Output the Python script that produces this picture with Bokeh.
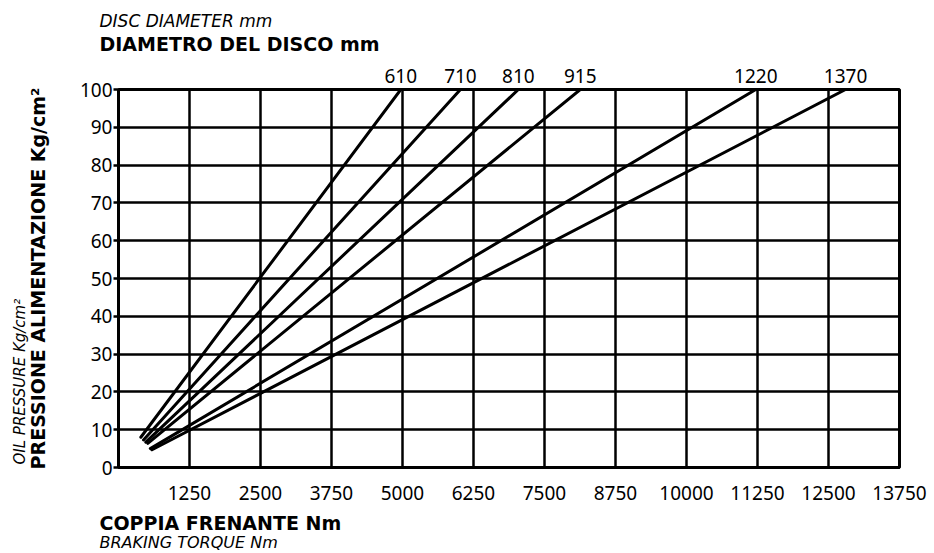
from bokeh.plotting import figure
from bokeh.models import (ColumnDataSource, FixedTicker, Range1d, Title, LinearAxis)
from bokeh.embed import file_html
from bokeh.resources import INLINE

# ---- data ----
diameters_mm = ["610", "710", "810", "915", "1220", "1370"]
torque_start_nm = [393, 440, 481, 516, 560, 590]
pressure_start = [8.0, 7.3, 6.7, 6.4, 5.0, 4.7]
torque_at_max_nm = [4970, 6020, 7040, 8130, 11220, 12800]
pressure_max = 100

x_ticks = [1250, 2500, 3750, 5000, 6250, 7500, 8750, 10000, 11250, 12500, 13750]
x_tick_labels = ["1250", "2500", "3750", "5000", "6250", "7500", "8750",
                 "10000", "11250", "12500", "13750"]
y_ticks = [0, 10, 20, 30, 40, 50, 60, 70, 80, 90, 100]
y_tick_labels = ["0", "10", "20", "30", "40", "50", "60", "70", "80", "90", "100"]

BOLD_FONT = "DejaVu Sans"
TICK_FONT = "Noto Sans"

src = ColumnDataSource(dict(
    x0=torque_start_nm,
    y0=pressure_start,
    x1=torque_at_max_nm,
    y1=[pressure_max] * len(diameters_mm),
))

W, H = 932, 552
p = figure(width=W, height=H,
           x_range=Range1d(0, x_ticks[-1]), y_range=Range1d(0, y_ticks[-1]),
           output_backend="svg", toolbar_location=None,
           min_border_left=118, min_border_right=W - 899,
           min_border_top=89, min_border_bottom=H - 467)
p.background_fill_color = "white"
p.border_fill_color = "white"
p.outline_line_color = "black"
p.outline_line_width = 3
p.outline_line_alpha = 1.0

# axes
p.xaxis.ticker = FixedTicker(ticks=x_ticks)
p.xaxis.major_label_overrides = dict(zip(x_ticks, x_tick_labels))
p.yaxis.ticker = FixedTicker(ticks=y_ticks)
p.yaxis.major_label_overrides = dict(zip(y_ticks, y_tick_labels))
for ax in (p.xaxis[0], p.yaxis[0]):
    ax.axis_line_color = "black"
    ax.axis_line_width = 3
    ax.major_label_text_font = TICK_FONT
    ax.major_label_text_font_size = "19px"
    ax.major_label_text_color = "black"
    ax.minor_tick_line_color = None
    ax.major_tick_in = 0
p.xaxis.major_tick_line_color = None
p.xaxis.major_tick_out = 0
p.xaxis.major_label_standoff = 18
p.yaxis.major_tick_out = 5
p.yaxis.major_tick_line_color = "black"
p.yaxis.major_tick_line_width = 2.5
p.yaxis.major_label_standoff = 1

# bold Italian y title as the axis label
p.yaxis.axis_label = "PRESSIONE ALIMENTAZIONE Kg/cm²"
p.yaxis.axis_label_text_font = BOLD_FONT
p.yaxis.axis_label_text_font_style = "bold"
p.yaxis.axis_label_text_font_size = "19px"
p.yaxis.axis_label_text_color = "black"
p.yaxis.axis_label_standoff = 28

# diameter labels: an axis above the plot, one tick at the top end of each line
top_axis = LinearAxis(ticker=FixedTicker(ticks=torque_at_max_nm),
                      major_label_overrides=dict(zip(torque_at_max_nm, diameters_mm)),
                      axis_line_color=None, major_tick_line_color=None,
                      minor_tick_line_color=None, major_tick_out=0, major_tick_in=0,
                      major_label_standoff=7,
                      major_label_text_font=TICK_FONT,
                      major_label_text_font_size="19px",
                      major_label_text_color="black")
p.add_layout(top_axis, "above")

# grid
p.xgrid.ticker = FixedTicker(ticks=x_ticks)
p.ygrid.ticker = FixedTicker(ticks=y_ticks)
for g in (p.xgrid[0], p.ygrid[0]):
    g.grid_line_color = "black"
    g.grid_line_width = 2.5
    g.grid_line_alpha = 1.0

# diameter lines
p.segment(x0="x0", y0="y0", x1="x1", y1="y1", source=src,
          line_color="black", line_width=3, line_cap="round")

# titles (first added sits nearest the plot)
p.add_layout(Title(text="DIAMETRO DEL DISCO mm", text_font=BOLD_FONT,
                   text_font_style="bold", text_font_size="19px",
                   text_color="black",
                   align="left", offset=-19, standoff=21), "above")
p.add_layout(Title(text="DISC DIAMETER mm", text_font=BOLD_FONT,
                   text_font_style="italic", text_font_size="17px",
                   text_color="black",
                   align="left", offset=-19, standoff=-20), "above")

p.add_layout(Title(text="OIL PRESSURE Kg/cm²", text_font=BOLD_FONT,
                   text_font_style="italic", text_font_size="15px",
                   text_color="black",
                   align="left", offset=3, standoff=-11), "left")

p.add_layout(Title(text="COPPIA FRENANTE Nm", text_font=BOLD_FONT,
                   text_font_style="bold", text_font_size="19px",
                   text_color="black", vertical_align="top",
                   align="left", offset=-19, standoff=18), "below")
p.add_layout(Title(text="BRAKING TORQUE Nm", text_font=BOLD_FONT,
                   text_font_style="italic", text_font_size="16px",
                   text_color="black", vertical_align="top",
                   align="left", offset=-19, standoff=-24), "below")

open("out.html", "w").write(file_html(p, INLINE))
